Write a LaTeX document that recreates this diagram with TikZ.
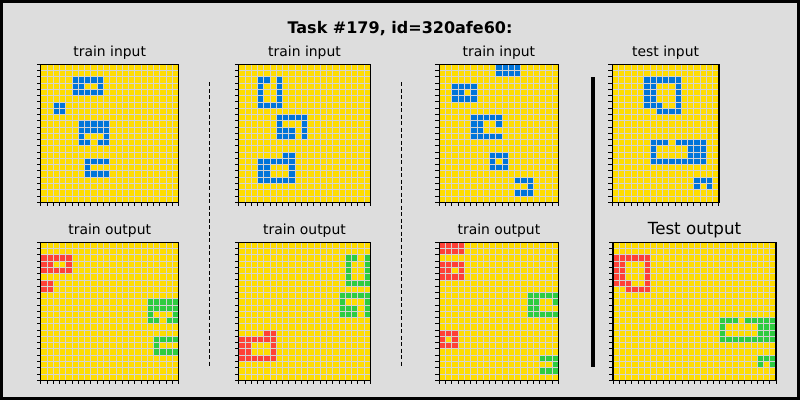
\documentclass[tikz,border=0pt]{standalone}
\usepackage{fontspec}
\setmainfont{DejaVu Sans}
\usepackage{tikz}
\definecolor{bggray}{HTML}{DDDDDD}
\definecolor{gridgray}{HTML}{D3D3D3}
\definecolor{arcyellow}{HTML}{FFDC00}
\definecolor{arcblue}{HTML}{0074D9}
\definecolor{arcred}{HTML}{FF4136}
\definecolor{arcgreen}{HTML}{2ECC40}
\tikzset{
  gridln/.style={gridgray,line width=0.8pt},
  tickln/.style={black,line width=0.9pt},
  frameln/.style={black,line width=1.3pt},
  ptitle/.style={anchor=base,font=\fontsize{13.9}{16}\selectfont},
  dashsep/.style={black,line width=1pt,dash pattern=on 4pt off 2.5pt}
}
% x0, y0, cols, rows, runs row/first/last/colour
\newcommand{\arcgrid}[5]{%
  \pgfmathsetmacro\gw{#3*\cellsz}%
  \pgfmathsetmacro\gh{#4*\cellsz}%
  \fill[arcyellow] (#1,#2) rectangle ++(\gw,\gh);
  \foreach \r/\a/\b/\cl in {#5}
    \fill[\cl] ({#1+\a*\cellsz},{#2+\r*\cellsz}) rectangle ({#1+(\b+1)*\cellsz},{#2+(\r+1)*\cellsz});
  \foreach \i in {1,...,#3}
    \draw[gridln] ({#1+\i*\cellsz},#2) -- ++(0,\gh);
  \foreach \j in {1,...,#4}
    \draw[gridln] (#1,{#2+\j*\cellsz}) -- ++(\gw,0);
  \draw[frameln] (#1,#2) rectangle ++(\gw,\gh);
  \foreach \i in {0,...,#3}
    \draw[tickln] ({#1+\i*\cellsz},{#2+\gh}) -- ++(0,4);
  \foreach \j in {0,...,#4}
    \draw[tickln] (#1,{#2+\j*\cellsz}) -- ++(-4,0);
}

\begin{document}
\begin{tikzpicture}[x=1pt,y=-1pt]
\def\cellsz{6.27}
\useasboundingbox (0,0) rectangle (800,400);
\fill[bggray] (0,0) rectangle (800,400);
\draw[black,line width=3pt] (1.5,1.5) rectangle (798.5,398.5);

\node[anchor=base,font=\bfseries\fontsize{16}{19}\selectfont] (ttl) at (400,33) {Task \#179, id=320afe60:};

% train 1
\node[ptitle] (ti1) at (109.7,56) {train input};
\arcgrid{40.7}{64.3}{22}{22}{2/5/9/arcblue, 3/5/6/arcblue, 3/9/9/arcblue, 4/5/9/arcblue,
  6/2/3/arcblue, 7/2/3/arcblue,
  9/6/10/arcblue, 10/6/10/arcblue, 11/6/6/arcblue, 11/10/10/arcblue, 12/6/7/arcblue, 12/9/10/arcblue,
  15/7/10/arcblue, 16/7/7/arcblue, 17/7/10/arcblue}
\node[ptitle] (to1) at (109.7,234) {train output};
\arcgrid{40.7}{242.3}{22}{22}{2/0/4/arcred, 3/0/1/arcred, 3/4/4/arcred, 4/0/4/arcred,
  6/0/1/arcred, 7/0/1/arcred,
  9/17/21/arcgreen, 10/17/21/arcgreen, 11/17/17/arcgreen, 11/21/21/arcgreen, 12/17/18/arcgreen, 12/20/21/arcgreen,
  15/18/21/arcgreen, 16/18/18/arcgreen, 17/18/21/arcgreen}

% train 2
\node[ptitle] (ti2) at (304.5,56) {train input};
\arcgrid{238.7}{64.3}{21}{22}{2/3/4/arcblue, 2/6/6/arcblue, 3/3/3/arcblue, 3/6/6/arcblue, 4/3/3/arcblue, 4/6/6/arcblue,
  5/3/3/arcblue, 5/6/6/arcblue, 6/3/6/arcblue,
  8/6/10/arcblue, 9/6/6/arcblue, 9/10/10/arcblue, 10/6/8/arcblue, 10/10/10/arcblue, 11/6/8/arcblue, 11/10/10/arcblue,
  14/7/8/arcblue, 15/3/8/arcblue, 16/3/4/arcblue, 16/8/8/arcblue, 17/3/4/arcblue, 17/8/8/arcblue, 18/3/8/arcblue}
\node[ptitle] (to2) at (304.5,234) {train output};
\arcgrid{238.7}{242.3}{21}{22}{2/17/18/arcgreen, 2/20/20/arcgreen, 3/17/17/arcgreen, 3/20/20/arcgreen, 4/17/17/arcgreen,
  4/20/20/arcgreen, 5/17/17/arcgreen, 5/20/20/arcgreen, 6/17/20/arcgreen,
  8/16/20/arcgreen, 9/16/16/arcgreen, 9/20/20/arcgreen, 10/16/18/arcgreen, 10/20/20/arcgreen, 11/16/18/arcgreen, 11/20/20/arcgreen,
  14/4/5/arcred, 15/0/5/arcred, 16/0/1/arcred, 16/5/5/arcred, 17/0/1/arcred, 17/5/5/arcred, 18/0/5/arcred}

% train 3
\node[ptitle] (ti3) at (498.9,56) {train input};
\arcgrid{439.3}{64.3}{19}{22}{0/9/12/arcblue, 1/9/12/arcblue,
  3/2/5/arcblue, 4/2/3/arcblue, 4/5/5/arcblue, 5/2/5/arcblue,
  8/5/9/arcblue, 9/5/6/arcblue, 9/9/9/arcblue, 10/5/6/arcblue, 11/5/9/arcblue,
  14/8/10/arcblue, 15/8/8/arcblue, 15/10/10/arcblue, 16/8/10/arcblue,
  18/12/14/arcblue, 19/14/14/arcblue, 20/12/14/arcblue}
\node[ptitle] (to3) at (498.9,234) {train output};
\arcgrid{439.3}{242.3}{19}{22}{0/0/3/arcred, 1/0/3/arcred,
  3/0/3/arcred, 4/0/1/arcred, 4/3/3/arcred, 5/0/3/arcred,
  8/14/18/arcgreen, 9/14/15/arcgreen, 9/18/18/arcgreen, 10/14/15/arcgreen, 11/14/18/arcgreen,
  14/0/2/arcred, 15/0/0/arcred, 15/2/2/arcred, 16/0/2/arcred,
  18/16/18/arcgreen, 19/18/18/arcgreen, 20/16/18/arcgreen}

% test
\node[ptitle] (tei) at (665.6,56) {test input};
\arcgrid{612.3}{64.3}{17}{22}{2/5/10/arcblue, 3/5/6/arcblue, 3/10/10/arcblue, 4/5/6/arcblue, 4/10/10/arcblue,
  5/5/6/arcblue, 5/10/10/arcblue, 6/5/7/arcblue, 6/10/10/arcblue, 7/7/10/arcblue,
  12/6/8/arcblue, 12/10/14/arcblue, 13/6/6/arcblue, 13/12/14/arcblue, 14/6/6/arcblue, 14/12/14/arcblue, 15/6/14/arcblue,
  18/13/15/arcblue, 19/13/13/arcblue, 19/15/15/arcblue}
\node[ptitle,font=\fontsize{16.7}{20}\selectfont] (teo) at (694.5,234) {Test output};
\arcgrid{613}{242.3}{26}{22}{2/0/5/arcred, 3/0/1/arcred, 3/5/5/arcred, 4/0/1/arcred, 4/5/5/arcred,
  5/0/1/arcred, 5/5/5/arcred, 6/0/2/arcred, 6/5/5/arcred, 7/2/5/arcred,
  12/17/19/arcgreen, 12/21/25/arcgreen, 13/17/17/arcgreen, 13/23/25/arcgreen, 14/17/17/arcgreen, 14/23/25/arcgreen, 15/17/25/arcgreen,
  18/23/25/arcgreen, 19/23/23/arcgreen, 19/25/25/arcgreen}

% separators
\draw[dashsep] (209,82) -- (209,366);
\draw[dashsep] (401,82) -- (401,366);
\draw[black,line width=4pt] (593,77) -- (593,367);
\end{tikzpicture}
\end{document}
